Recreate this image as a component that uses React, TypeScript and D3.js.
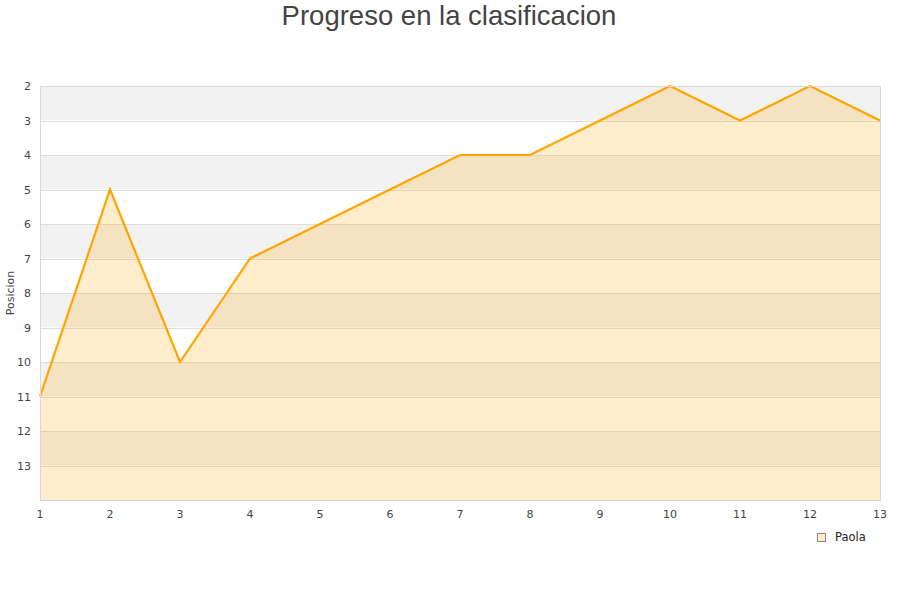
import React from "react";
import * as d3 from "d3";

// Jornada (round) numbers and Paola's position after each round
const rounds = [1, 2, 3, 4, 5, 6, 7, 8, 9, 10, 11, 12, 13];
const positions = [11, 5, 10, 7, 6, 5, 4, 4, 3, 2, 3, 2, 3];
const yTicks = [2, 3, 4, 5, 6, 7, 8, 9, 10, 11, 12, 13];
const seriesName = "Paola";
const title = "Progreso en la clasificacion";
const yTitle = "Posicion";

const W = 900;
const H = 600;
const left = 40;
const right = 880;
const top = 86;
const bottom = 500;

export default function App() {
  const x = d3.scaleLinear().domain([1, 13]).range([left, right]);
  const y = d3.scaleLinear().domain([2, 14]).range([top, bottom]);

  const pts = rounds.map((r, i) => [r, positions[i]] as [number, number]);
  const line = d3
    .line<[number, number]>()
    .x((d) => x(d[0]))
    .y((d) => y(d[1]));
  const area = d3
    .area<[number, number]>()
    .x((d) => x(d[0]))
    .y0(y(14))
    .y1((d) => y(d[1]));

  const bands = d3.range(2, 14);
  const font = "DejaVu Sans, sans-serif";

  return (
    <svg
      width={W}
      height={H}
      style={{ position: "absolute", left: 0, top: 0, background: "#fff" }}
    >
      <text
        x={449}
        y={25}
        textAnchor="middle"
        fontFamily="Liberation Sans, Arial, sans-serif"
        fontSize={27.5}
        fill="#444"
      >
        {title}
      </text>

      {/* alternating row bands */}
      {bands.map((b) => (
        <rect
          key={b}
          x={left}
          y={y(b)}
          width={right - left}
          height={y(b + 1) - y(b)}
          fill={(b - 2) % 2 === 0 ? "#f2f2f2" : "#ffffff"}
        />
      ))}
      {/* horizontal grid lines */}
      {yTicks.map((t) => (
        <line
          key={t}
          x1={left}
          x2={right}
          y1={Math.round(y(t)) + 0.5}
          y2={Math.round(y(t)) + 0.5}
          stroke="#dddddd"
        />
      ))}

      <path d={area(pts) ?? ""} fill="orange" fillOpacity={0.2} />
      <path
        d={line(pts) ?? ""}
        fill="none"
        stroke="orange"
        strokeWidth={2.2}
        strokeLinejoin="miter"
      />

      {/* plot frame */}
      <rect
        x={left + 0.5}
        y={top + 0.5}
        width={right - left}
        height={bottom - top}
        fill="none"
        stroke="#d9d9d9"
      />

      {yTicks.map((t) => (
        <text
          key={t}
          x={31}
          y={y(t) + 4}
          textAnchor="end"
          fontFamily={font}
          fontSize={11}
          fill="#444"
        >
          {t}
        </text>
      ))}
      {rounds.map((r) => (
        <text
          key={r}
          x={x(r)}
          y={518}
          textAnchor="middle"
          fontFamily={font}
          fontSize={11}
          fill="#444"
        >
          {r}
        </text>
      ))}

      <text
        transform={`translate(14,${(top + bottom) / 2}) rotate(-90)`}
        textAnchor="middle"
        fontFamily={font}
        fontSize={11}
        fill="#444"
      >
        {yTitle}
      </text>

      {/* legend */}
      <rect
        x={817.5}
        y={533.5}
        width={8}
        height={8}
        fill="#feecc9"
        stroke="#888"
      />
      <text x={835} y={541} fontFamily={font} fontSize={11.5} fill="#222">
        {seriesName}
      </text>
    </svg>
  );
}
